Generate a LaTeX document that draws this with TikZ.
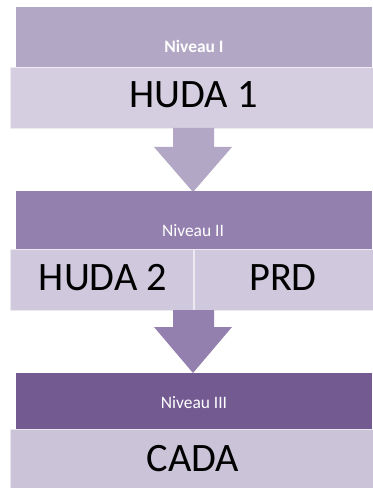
\documentclass[tikz,border=0pt]{standalone}
\usepackage{fontspec}
\setmainfont{Carlito}
\definecolor{headA}{HTML}{B2A7C5}
\definecolor{headB}{HTML}{9380AE}
\definecolor{headC}{HTML}{735A91}
\definecolor{bodyA}{HTML}{D4CEE0}
\definecolor{bodyB}{HTML}{D0C9DD}
\definecolor{bodyC}{HTML}{CBC3D8}
\tikzset{
  body/.style={fill=#1, draw=white!60!#1, line width=0.8bp},
  lvl/.style={text=white, anchor=base, inner sep=0pt, font=\fontsize{17.5}{20}\selectfont},
  big/.style={text=black, anchor=base, inner sep=0pt, font=\fontsize{40.5}{46}\selectfont},
}
\begin{document}
\begin{tikzpicture}[x=1bp,y=-1bp]
\useasboundingbox (0,0) rectangle (372,488);
% level I
\fill[headA] (16,7) rectangle (372,67);
\node[lvl, font=\bfseries\fontsize{17.5}{20}\selectfont] (n1) at (194,53) {Niveau I};
\draw[body=bodyA] (10,67) rectangle (374,128);
\node[big] (h1) at (193.5,108) {HUDA 1};
% arrow I -> II
\fill[headA] (173,128) -- (214,128) -- (214,147) -- (232,147) -- (193,192) -- (154,147) -- (173,147) -- cycle;
% level II
\fill[headB] (16,191) rectangle (372,249);
\node[lvl] (n2) at (193,236) {Niveau II};
\draw[body=bodyB] (10,249) rectangle (193,310);
\draw[body=bodyB] (194,249) rectangle (374,310);
\node[big] (h2) at (103,290) {HUDA 2};
\node[big] (prd) at (283,290) {PRD};
% arrow II -> III
\fill[headB] (173,310) -- (214,310) -- (214,327) -- (232,327) -- (193,373) -- (154,327) -- (173,327) -- cycle;
% level III
\fill[headC] (16,373) rectangle (372,429);
\node[lvl] (n3) at (194,408) {Niveau III};
\draw[body=bodyC] (10,429) rectangle (374,490);
\node[big] (cada) at (193,471.5) {CADA};
\end{tikzpicture}
\end{document}
